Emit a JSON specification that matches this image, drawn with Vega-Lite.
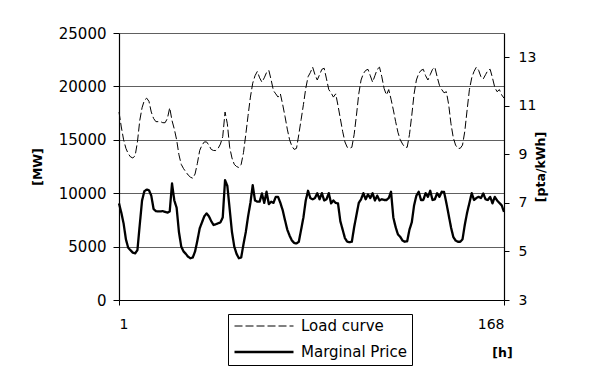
{
  "$schema": "https://vega.github.io/schema/vega-lite/v6.json",
  "width": 385,
  "height": 267,
  "autosize": {"type": "none"},
  "padding": {"left": 119, "top": 33, "right": 85, "bottom": 85},
  "background": "white",
  "data": {"values": [
    {"h":1,"load":17600,"price":6.98},{"h":2,"load":16200,"price":6.6},{"h":3,"load":15000,"price":6.15},{"h":4,"load":14200,"price":5.5},{"h":5,"load":13700,"price":5.15},{"h":6,"load":13400,"price":5.05},{"h":7,"load":13300,"price":4.95},{"h":8,"load":13500,"price":4.92},{"h":9,"load":14800,"price":5.06},{"h":10,"load":16800,"price":6.1},{"h":11,"load":18000,"price":7.1},{"h":12,"load":18700,"price":7.48},{"h":13,"load":18900,"price":7.55},{"h":14,"load":18600,"price":7.52},{"h":15,"load":17600,"price":7.3},{"h":16,"load":17000,"price":6.75},{"h":17,"load":16700,"price":6.66},{"h":18,"load":16700,"price":6.65},{"h":19,"load":16700,"price":6.65},{"h":20,"load":16600,"price":6.66},{"h":21,"load":16600,"price":6.63},{"h":22,"load":17000,"price":6.6},{"h":23,"load":18000,"price":6.65},{"h":24,"load":16800,"price":7.8},
    {"h":25,"load":16000,"price":7.1},{"h":26,"load":15000,"price":6.8},{"h":27,"load":13600,"price":5.8},{"h":28,"load":12700,"price":5.2},{"h":29,"load":12300,"price":5.0},{"h":30,"load":12000,"price":4.9},{"h":31,"load":11700,"price":4.78},{"h":32,"load":11500,"price":4.72},{"h":33,"load":11400,"price":4.75},{"h":34,"load":11800,"price":5.0},{"h":35,"load":12800,"price":5.45},{"h":36,"load":14000,"price":5.95},{"h":37,"load":14500,"price":6.2},{"h":38,"load":14800,"price":6.45},{"h":39,"load":14800,"price":6.57},{"h":40,"load":14500,"price":6.45},{"h":41,"load":14100,"price":6.25},{"h":42,"load":14000,"price":6.09},{"h":43,"load":14000,"price":6.12},{"h":44,"load":14200,"price":6.16},{"h":45,"load":14600,"price":6.2},{"h":46,"load":15300,"price":6.4},{"h":47,"load":17600,"price":7.94},{"h":48,"load":16500,"price":7.7},
    {"h":49,"load":14300,"price":6.75},{"h":50,"load":13300,"price":5.8},{"h":51,"load":12700,"price":5.2},{"h":52,"load":12500,"price":4.9},{"h":53,"load":12400,"price":4.72},{"h":54,"load":12700,"price":4.75},{"h":55,"load":13800,"price":5.3},{"h":56,"load":15500,"price":5.8},{"h":57,"load":17300,"price":6.45},{"h":58,"load":19000,"price":7.0},{"h":59,"load":20300,"price":7.73},{"h":60,"load":21000,"price":7.1},{"h":61,"load":21400,"price":7.05},{"h":62,"load":20800,"price":7.05},{"h":63,"load":20400,"price":7.39},{"h":64,"load":20800,"price":7.0},{"h":65,"load":21300,"price":7.46},{"h":66,"load":21500,"price":6.95},{"h":67,"load":20600,"price":7.05},{"h":68,"load":19600,"price":7.0},{"h":69,"load":19300,"price":7.25},{"h":70,"load":19000,"price":7.25},{"h":71,"load":19300,"price":7.0},{"h":72,"load":18300,"price":6.7},
    {"h":73,"load":17200,"price":6.29},{"h":74,"load":16000,"price":5.9},{"h":75,"load":15000,"price":5.65},{"h":76,"load":14400,"price":5.45},{"h":77,"load":14100,"price":5.35},{"h":78,"load":14200,"price":5.33},{"h":79,"load":15500,"price":5.4},{"h":80,"load":16900,"price":5.9},{"h":81,"load":18300,"price":6.4},{"h":82,"load":19800,"price":7.1},{"h":83,"load":20900,"price":7.5},{"h":84,"load":21300,"price":7.2},{"h":85,"load":21800,"price":7.15},{"h":86,"load":21100,"price":7.2},{"h":87,"load":20600,"price":7.4},{"h":88,"load":21100,"price":7.15},{"h":89,"load":21600,"price":7.4},{"h":90,"load":21700,"price":7.1},{"h":91,"load":20700,"price":7.15},{"h":92,"load":19700,"price":7.4},{"h":93,"load":19400,"price":6.98},{"h":94,"load":19000,"price":7.1},{"h":95,"load":19300,"price":7.0},{"h":96,"load":18200,"price":6.98},
    {"h":97,"load":17000,"price":6.25},{"h":98,"load":15800,"price":5.9},{"h":99,"load":14800,"price":5.55},{"h":100,"load":14300,"price":5.4},{"h":101,"load":14200,"price":5.38},{"h":102,"load":14300,"price":5.4},{"h":103,"load":15500,"price":6.0},{"h":104,"load":17300,"price":6.5},{"h":105,"load":19300,"price":7.0},{"h":106,"load":20600,"price":7.15},{"h":107,"load":21200,"price":7.4},{"h":108,"load":21500,"price":7.15},{"h":109,"load":21600,"price":7.35},{"h":110,"load":21000,"price":7.2},{"h":111,"load":20400,"price":7.4},{"h":112,"load":21000,"price":7.1},{"h":113,"load":21600,"price":7.3},{"h":114,"load":21800,"price":7.1},{"h":115,"load":20900,"price":7.15},{"h":116,"load":19800,"price":7.12},{"h":117,"load":19200,"price":7.12},{"h":118,"load":19700,"price":7.2},{"h":119,"load":18800,"price":7.46},{"h":120,"load":17800,"price":6.4},
    {"h":121,"load":16700,"price":6.0},{"h":122,"load":15700,"price":5.7},{"h":123,"load":15000,"price":5.6},{"h":124,"load":14600,"price":5.45},{"h":125,"load":14300,"price":5.4},{"h":126,"load":14300,"price":5.42},{"h":127,"load":15500,"price":5.9},{"h":128,"load":17300,"price":6.2},{"h":129,"load":19300,"price":6.9},{"h":130,"load":20600,"price":7.3},{"h":131,"load":21200,"price":7.46},{"h":132,"load":21500,"price":7.12},{"h":133,"load":21600,"price":7.12},{"h":134,"load":21000,"price":7.4},{"h":135,"load":20600,"price":7.25},{"h":136,"load":21100,"price":7.5},{"h":137,"load":21600,"price":7.12},{"h":138,"load":21800,"price":7.15},{"h":139,"load":20900,"price":7.4},{"h":140,"load":20100,"price":7.25},{"h":141,"load":19700,"price":7.46},{"h":142,"load":19400,"price":7.45},{"h":143,"load":19500,"price":7.0},{"h":144,"load":18300,"price":6.5},
    {"h":145,"load":16500,"price":6.0},{"h":146,"load":15200,"price":5.6},{"h":147,"load":14500,"price":5.45},{"h":148,"load":14200,"price":5.4},{"h":149,"load":14200,"price":5.4},{"h":150,"load":14500,"price":5.5},{"h":151,"load":15800,"price":6.1},{"h":152,"load":17800,"price":6.6},{"h":153,"load":19700,"price":7.0},{"h":154,"load":20800,"price":7.4},{"h":155,"load":21400,"price":7.12},{"h":156,"load":21800,"price":7.2},{"h":157,"load":21500,"price":7.25},{"h":158,"load":20900,"price":7.2},{"h":159,"load":20700,"price":7.39},{"h":160,"load":21100,"price":7.15},{"h":161,"load":21500,"price":7.12},{"h":162,"load":21600,"price":7.25},{"h":163,"load":20800,"price":6.98},{"h":164,"load":19900,"price":7.25},{"h":165,"load":19500,"price":7.1},{"h":166,"load":19700,"price":7.0},{"h":167,"load":19200,"price":6.9},{"h":168,"load":18900,"price":6.63}
  ]},
  "encoding": {
    "x": {
      "field": "h", "type": "quantitative",
      "scale": {"domain": [1, 168], "nice": false, "zero": false},
      "axis": {
        "values": [1, 168], "grid": false, "tickSize": 5, "labelPadding": 12,
        "title": "[h]", "titleX": 383, "titleY": 52, "titleAlign": "center", "titleBaseline": "middle",
        "titleFontWeight": "bold", "titleFontSize": 12.5
      }
    }
  },
  "layer": [
    {
      "mark": {"type": "line", "color": "black", "strokeCap": "butt"},
      "encoding": {
        "y": {
          "field": "load", "type": "quantitative",
          "scale": {"domain": [0, 25000], "nice": false},
          "axis": {
            "orient": "left", "values": [0, 5000, 10000, 15000, 20000, 25000], "format": "d",
            "grid": true, "gridColor": "#606060", "gridWidth": 1, "tickSize": 6, "labelPadding": 7,
            "labelFontSize": 15,
            "title": "[MW]", "titlePadding": 14, "titleFontWeight": "bold", "titleFontSize": 12.5
          }
        },
        "strokeDash": {
          "datum": "Load curve", "type": "nominal",
          "scale": {"domain": ["Load curve", "Marginal Price"], "range": [[8, 3], [1, 0]]},
          "legend": {"title": null}
        },
        "strokeWidth": {
          "datum": "Load curve", "type": "nominal",
          "scale": {"domain": ["Load curve", "Marginal Price"], "range": [1, 2.3]},
          "legend": {"title": null}
        }
      }
    },
    {
      "mark": {"type": "line", "color": "black", "strokeJoin": "round"},
      "encoding": {
        "y": {
          "field": "price", "type": "quantitative",
          "scale": {"domain": [3, 14], "nice": false, "zero": false},
          "axis": {
            "orient": "right", "values": [3, 5, 7, 9, 11, 13], "grid": false,
            "tickSize": 5, "labelPadding": 9,
            "title": "[pta/kWh]", "titleAngle": 270, "titlePadding": 12, "titleFontWeight": "bold", "titleFontSize": 12.5
          }
        },
        "strokeDash": {"datum": "Marginal Price", "type": "nominal"},
        "strokeWidth": {"datum": "Marginal Price", "type": "nominal"}
      }
    }
  ],
  "resolve": {"scale": {"y": "independent"}},
  "config": {
    "view": {"stroke": null},
    "font": "DejaVu Sans",
    "axis": {
      "labelFont": "DejaVu Sans", "labelFontSize": 14, "labelColor": "black",
      "titleFont": "DejaVu Sans", "titleColor": "black",
      "domainColor": "black", "domainWidth": 1.2, "tickColor": "black", "tickWidth": 1
    },
    "legend": {
      "orient": "none", "legendX": 109, "legendY": 281,
      "direction": "vertical",
      "strokeColor": "black", "fillColor": "white", "padding": 5,
      "symbolType": "stroke", "symbolSize": 3481, "symbolStrokeColor": "black",
      "clipHeight": 14, "rowPadding": 11,
      "labelFont": "DejaVu Sans", "labelFontSize": 15, "labelColor": "black", "labelOffset": 6
    }
  }
}
